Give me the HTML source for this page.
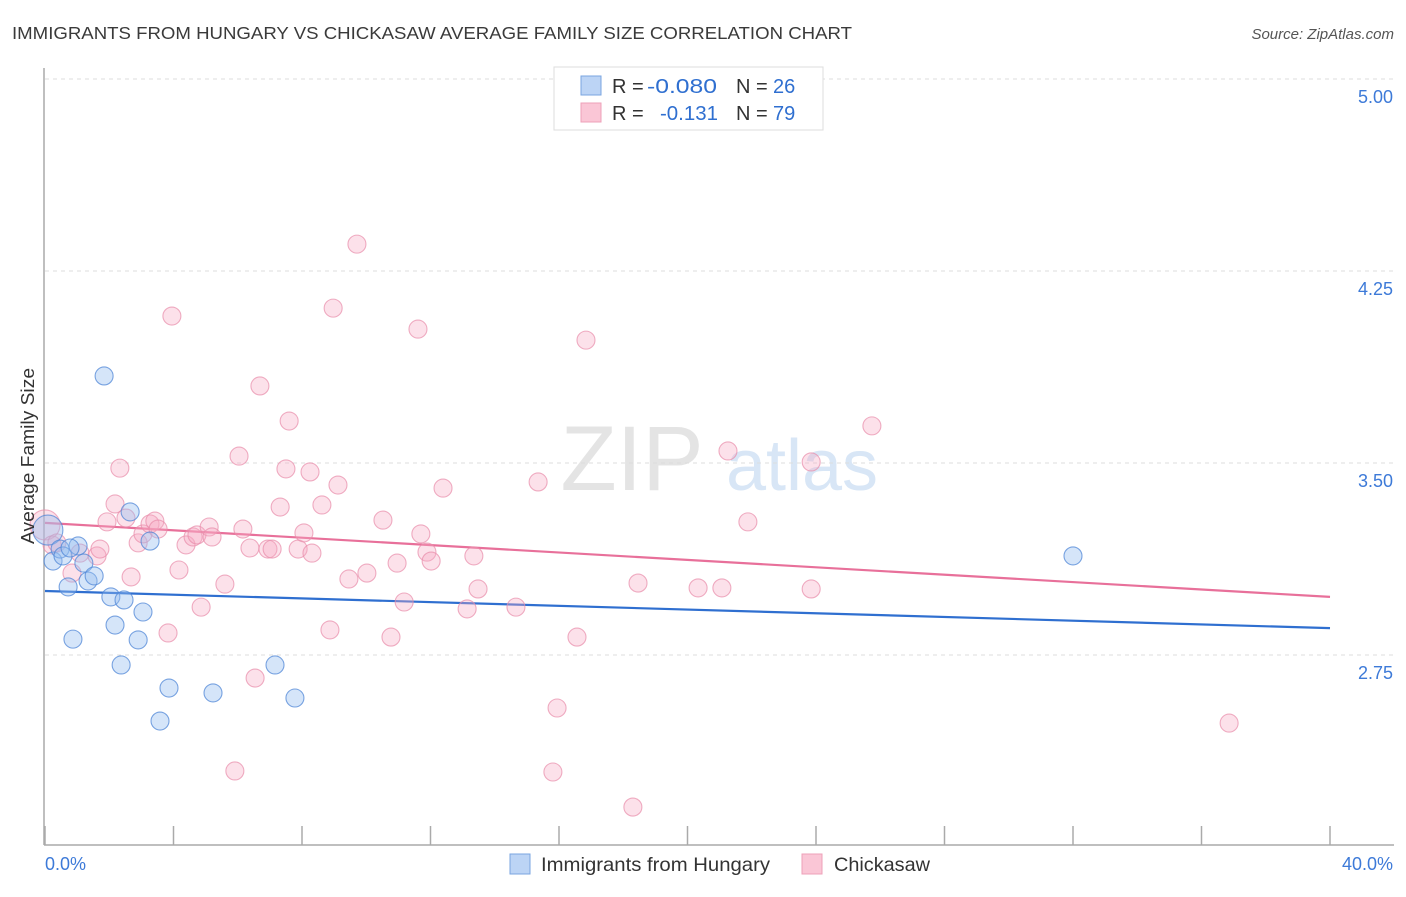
<!DOCTYPE html>
<html><head><meta charset="utf-8"><style>
body{margin:0;background:#fff;font-family:"Liberation Sans",sans-serif;}
svg text{font-family:"Liberation Sans",sans-serif;}
</style></head><body>
<svg id="chart" width="1406" height="892" xmlns="http://www.w3.org/2000/svg">
<text x="12" y="39" font-size="17.5" fill="#3a3a3a" textLength="840" lengthAdjust="spacingAndGlyphs">IMMIGRANTS FROM HUNGARY VS CHICKASAW AVERAGE FAMILY SIZE CORRELATION CHART</text>
<text x="1394" y="39" font-size="15" fill="#555" font-style="italic" text-anchor="end">Source: ZipAtlas.com</text>
<g>
<text x="632" y="490" font-size="92" fill="#e4e4e4" text-anchor="middle" font-family="Liberation Serif">ZIP</text>
<text x="802" y="490" font-size="72" fill="#d8e6f6" text-anchor="middle">atlas</text>
</g>
<g id="grid"></g><g id="axes"></g><g id="lines"></g><g id="pts"></g>
<text transform="translate(34,456) rotate(-90)" font-size="18" fill="#333" text-anchor="middle" textLength="176" lengthAdjust="spacingAndGlyphs">Average Family Size</text>
<g>
<rect x="554" y="67" width="269" height="63" fill="#fff" stroke="#ddd"/>
<rect x="581" y="76" width="20" height="19" fill="#bcd4f5" stroke="#7aa5e0"/>
<rect x="581" y="103" width="20" height="19" fill="#fac6d6" stroke="#eea0b8"/>
<text font-size="20" fill="#333"><tspan x="612" y="93">R =</tspan><tspan x="647" y="93" fill="#2f6fd0" textLength="70" lengthAdjust="spacingAndGlyphs">-0.080</tspan><tspan x="736" y="93">N =</tspan><tspan x="773" y="93" fill="#2f6fd0">26</tspan></text>
<text font-size="20" fill="#333"><tspan x="612" y="120">R =</tspan><tspan x="660" y="120" fill="#2f6fd0" textLength="58" lengthAdjust="spacingAndGlyphs">-0.131</tspan><tspan x="736" y="120">N =</tspan><tspan x="773" y="120" fill="#2f6fd0">79</tspan></text>
</g>
<g>
<rect x="510" y="854" width="20" height="20" fill="#bcd4f5" stroke="#7aa5e0"/>
<text x="541" y="871" font-size="19.5" fill="#333" textLength="229" lengthAdjust="spacingAndGlyphs">Immigrants from Hungary</text>
<rect x="802" y="854" width="20" height="20" fill="#fac6d6" stroke="#eea0b8"/>
<text x="834" y="871" font-size="19.5" fill="#333" textLength="96" lengthAdjust="spacingAndGlyphs">Chickasaw</text>
</g>
</svg>
<script>
const yTicks=[5.00,4.25,3.50,2.75];
const xTickLabels=["0.0%","40.0%"];
const blueX=[0.09,0.25,0.47,0.56,0.72,1.03,1.21,1.34,1.53,0.87,2.05,2.46,2.65,3.27,2.18,2.90,3.05,1.84,2.37,3.86,3.58,5.23,7.16,7.78,32.0,0.78];
const blueY=[3.238,3.117,3.164,3.137,3.016,3.176,3.109,3.039,3.059,2.812,2.977,2.965,3.309,3.195,2.867,2.809,2.918,3.840,2.711,2.621,2.492,2.602,2.711,2.582,3.137,3.168];
const pinkX=[0,0.22,0.37,0.84,1.09,1.62,1.71,2.18,2.33,1.93,2.52,2.68,2.90,3.05,3.27,3.42,3.52,3.83,3.95,4.17,4.39,4.61,4.73,4.86,5.11,5.20,5.60,6.04,6.16,6.38,6.69,5.91,6.54,6.94,7.07,7.32,7.50,7.60,7.88,8.06,8.31,8.25,8.97,8.62,9.12,8.87,9.46,10.02,9.71,10.52,10.77,10.96,11.18,11.61,11.70,11.89,12.02,12.39,13.14,13.35,13.48,14.66,15.35,15.81,15.94,16.56,16.84,18.30,18.46,20.33,21.07,21.26,21.88,23.85,23.85,25.74,36.86];
const pinkY=[3.258,3.18,3.188,3.07,3.148,3.137,3.164,3.34,3.48,3.27,3.285,3.055,3.188,3.223,3.262,3.273,3.242,2.836,4.074,3.082,3.18,3.211,3.219,2.937,3.25,3.211,3.027,3.527,3.242,3.168,3.801,2.297,2.66,3.164,3.164,3.328,3.477,3.664,3.164,3.227,3.148,3.465,4.105,3.336,3.414,2.848,3.047,3.07,4.355,3.277,2.82,3.109,2.957,4.023,3.223,3.152,3.117,3.402,2.93,3.137,3.008,2.937,3.426,2.293,2.543,2.82,3.98,2.156,3.031,3.012,3.012,3.547,3.27,3.504,3.008,3.645,2.484];
const blueTrend=[3.0,2.855];
const pinkTrend=[3.266,2.977];
const NS="http://www.w3.org/2000/svg";
const X0=45,X1=1330,Ytop=79,PX_PER=256;
const xs=v=>X0+(v/40)*(X1-X0);
const ys=v=>Ytop+(5-v)*PX_PER;
function mk(tag,attrs,parent){const e=document.createElementNS(NS,tag);for(const k in attrs)e.setAttribute(k,attrs[k]);document.getElementById(parent).appendChild(e);return e;}
yTicks.forEach((t,i)=>{
 const l=mk('line',{x1:45,x2:1394,y1:ys(t),y2:ys(t),stroke:'#ddd','stroke-dasharray':'4,4'},'grid');
 
 
 const tx=mk('text',{x:1393,y:ys(t)+24,'font-size':18,fill:'#3d7ad8','text-anchor':'end'},'grid');
 tx.textContent=t.toFixed(2);
 
 
});
const ax=mk('line',{x1:44,x2:44,y1:68,y2:845,stroke:'#aaa','stroke-width':1.5},'axes');


const bx=mk('line',{x1:44,x2:1394,y1:845,y2:845,stroke:'#aaa','stroke-width':1.5},'axes');


for(let i=0;i<=10;i++){
 const tk=mk('line',{x1:xs(i*4),x2:xs(i*4),y1:826,y2:845,stroke:'#aaa','stroke-width':1.5},'axes');
 
 
}
xTickLabels.forEach((s,i)=>{
 const t=mk('text',{x:i?1393:45,y:870,'font-size':18,fill:'#3d7ad8','text-anchor':i?'end':'start'},'axes');
 t.textContent=s;
 
 
});
function pts(xa,ya,fill,stroke,name){
 xa.forEach((x,i)=>{
  const c=mk('circle',{cx:xs(x),cy:ys(ya[i]),r:i===0?15:9,fill:fill,stroke:stroke,'stroke-width':1.1},'pts');
  
  
 });
}
pts(pinkX,pinkY,'rgba(246,170,196,0.35)','rgba(232,140,170,0.7)','chickasaw-point');
pts(blueX,blueY,'rgba(150,190,240,0.4)','rgba(80,135,215,0.75)','hungary-point');
const bl=mk('line',{x1:xs(0),y1:ys(blueTrend[0]),x2:xs(40),y2:ys(blueTrend[1]),stroke:'#2f6fd0','stroke-width':2.2},'lines');


const pl=mk('line',{x1:xs(0),y1:ys(pinkTrend[0]),x2:xs(40),y2:ys(pinkTrend[1]),stroke:'#e8709a','stroke-width':2.2},'lines');


</script>
</body></html>
